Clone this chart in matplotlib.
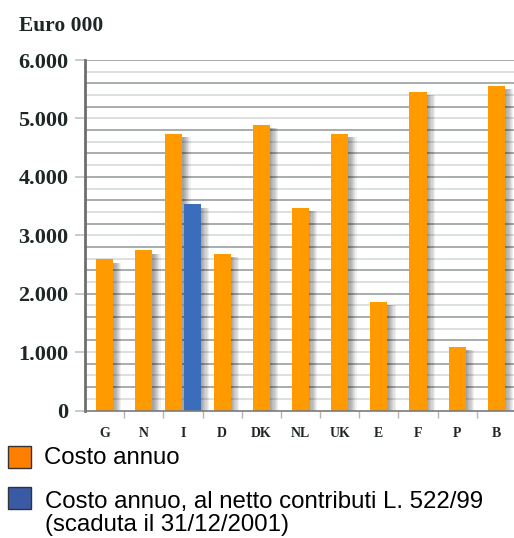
import matplotlib
matplotlib.use("Agg")
import matplotlib.pyplot as plt
from matplotlib.patches import Rectangle

# costo annuo per paese, in migliaia di euro
paesi = ["G", "N", "I", "D", "DK", "NL", "UK", "E", "F", "P", "B"]
costo_annuo = [2590, 2740, 4740, 2680, 4890, 3470, 4740, 1860, 5460, 1090, 5560]
# solo l'Italia ha il valore al netto dei contributi
paese_netto = "I"
costo_netto = 3530

y_ticks = [0, 1000, 2000, 3000, 4000, 5000, 6000]
y_tick_labels = ["0", "1.000", "2.000", "3.000", "4.000", "5.000", "6.000"]

ARANCIO = "#ff9a00"
BLU = "#3a6dba"

W, H = 514, 538
fig = plt.figure(figsize=(W / 100, H / 100), dpi=100)

def px(x, y):
    return x / W, 1 - y / H

x0, y0 = px(85, 410.5)
x1, y1 = px(516, 60)
ax = fig.add_axes([x0, y0, x1 - x0, y1 - y0])
ax.set_xlim(-0.5, len(paesi) - 0.5)
ax.set_ylim(0, 6000)

# griglia ogni 200, alternando linee scure e chiare
for v in range(200, 6001, 200):
    scura = (v // 200) % 2 == 0
    ax.axhline(v, color="#8f9696" if scura else "#d3d7d7",
               lw=1.1, zorder=0)

larg = 0.44
pos = list(range(len(paesi)))
i_net = paesi.index(paese_netto)

def ombra(x, h, w):
    # ombra sfumata a destra della barra, appena sotto la cima
    for k in range(1, 8):
        ax.bar(x + w / 2, h + 20, width=0.03 * k, bottom=-80,
               color="black", alpha=0.06, lw=0, zorder=1, align="edge")

for i, (p, v) in enumerate(zip(paesi, costo_annuo)):
    dx = -0.235 if i == i_net else 0
    ombra(i + dx, v, larg)
    ax.bar(i + dx, v, width=larg, color=ARANCIO, lw=0, zorder=3)

ombra(i_net + 0.235, costo_netto, larg)
ax.bar(i_net + 0.235, costo_netto, width=larg, color=BLU, lw=0, zorder=3)

# assi
for s in ["top", "right"]:
    ax.spines[s].set_visible(False)
ax.spines["left"].set_color("#6e6e6e")
ax.spines["left"].set_linewidth(2)
ax.spines["bottom"].set_color("#7a7a7a")
ax.spines["bottom"].set_linewidth(1.2)
ax.spines["left"].set_zorder(5)
ax.spines["bottom"].set_zorder(5)

ax.set_yticks(y_ticks)
ax.set_yticklabels(y_tick_labels, family="Liberation Serif", weight="bold",
                   fontsize=16, color="#1e2626")
ax.tick_params(axis="y", length=7, width=1.2, color="#bfc3c3", pad=5)

ax.set_xticks([p + 0.5 for p in pos[:-1]], minor=False)
ax.set_xticklabels([])
ax.tick_params(axis="x", length=5, width=1, color="#b5b5b5")
ax.set_xticks(pos, minor=True)
ax.set_xticklabels(paesi, minor=True, family="Liberation Serif",
                   weight="bold", fontsize=10, color="#1e2626")
ax.tick_params(axis="x", which="minor", length=0, pad=12)

fig.text(*px(19, 26), "Euro 000", family="Liberation Serif", weight="bold",
         fontsize=15.5, color="#1e2626", va="center", ha="left")

# legenda
def quadrato(xp, yp, colore):
    qx, qy = px(xp, yp + 22)
    fig.patches.append(Rectangle((qx, qy), 23 / W, 22 / H, transform=fig.transFigure,
                                 facecolor=colore, edgecolor="#333333", lw=1))

quadrato(8, 446, "#ff8000")
fig.text(*px(44, 458), "Costo annuo", family="Liberation Sans", fontsize=17.3,
         va="center", ha="left", color="black")
quadrato(8, 487, "#3a5aa6")
fig.text(*px(45, 502), "Costo annuo, al netto contributi L. 522/99",
         family="Liberation Sans", fontsize=17.3, va="center", ha="left", color="black")
fig.text(*px(45, 525), "(scaduta il 31/12/2001)",
         family="Liberation Sans", fontsize=17.3, va="center", ha="left", color="black")

fig.savefig("out.png", dpi=100)
